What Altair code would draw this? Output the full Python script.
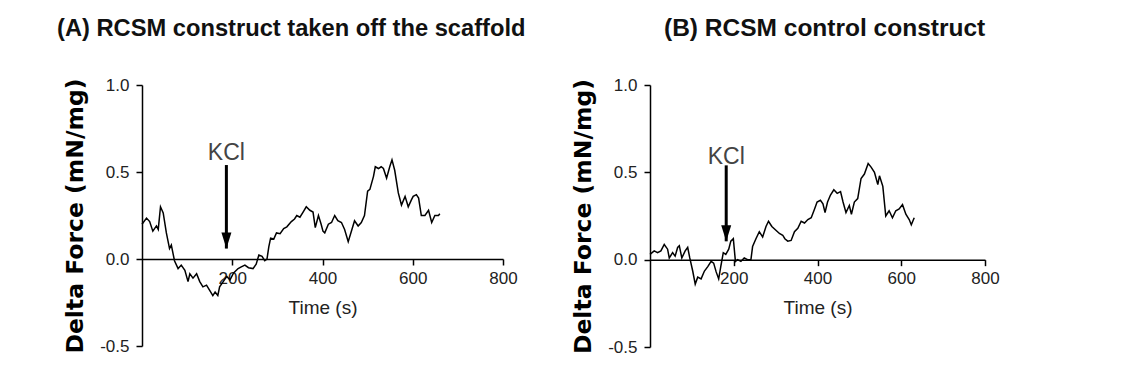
import altair as alt
import pandas as pd

# ---------------- data ----------------
time_a = [0, 10, 17, 24, 32, 36, 41, 47, 54, 61, 65, 72, 80, 87, 95, 102, 106, 113, 121,
          128, 135, 143, 150, 157, 162, 168, 172, 180, 188, 195, 203, 213, 220, 228, 236,
          246, 253, 259, 266, 272, 277, 281, 285, 292, 298, 306, 314, 321, 331, 338, 343,
          350, 357, 364, 372, 379, 384, 391, 397, 401, 405, 413, 420, 427, 434, 442, 449,
          457, 464, 471, 479, 486, 493, 500, 505, 513, 517, 524, 530, 535, 542, 549, 554,
          560, 568, 575, 583, 590, 597, 601, 608, 613, 619, 627, 635, 642, 649, 657, 660]
force_a = [0.20, 0.235, 0.215, 0.16, 0.19, 0.17, 0.30, 0.265, 0.15, 0.06, 0.08, -0.01, -0.055,
           -0.035, -0.065, -0.13, -0.085, -0.11, -0.085, -0.13, -0.16, -0.15, -0.18, -0.21,
           -0.19, -0.21, -0.16, -0.13, -0.10, -0.12, -0.08, -0.055, -0.045, -0.035, -0.05,
           -0.055, -0.03, 0.023, 0.015, -0.01, 0.0, 0.07, 0.12, 0.115, 0.15, 0.145, 0.175,
           0.185, 0.215, 0.23, 0.25, 0.24, 0.27, 0.30, 0.28, 0.27, 0.18, 0.25, 0.20, 0.16,
           0.15, 0.20, 0.21, 0.25, 0.22, 0.21, 0.17, 0.10, 0.16, 0.22, 0.19, 0.21, 0.25, 0.39,
           0.40, 0.475, 0.53, 0.52, 0.53, 0.52, 0.465, 0.53, 0.57, 0.51, 0.38, 0.31, 0.36,
           0.30, 0.34, 0.36, 0.37, 0.35, 0.25, 0.25, 0.28, 0.21, 0.25, 0.25, 0.26]

time_b = [0, 10, 18, 26, 34, 42, 46, 54, 60, 66, 70, 76, 84, 90, 95, 102, 108, 114, 122, 130,
          138, 146, 152, 158, 164, 169, 175, 181, 188, 193, 199, 204, 209, 217, 225, 233, 241,
          245, 253, 261, 269, 277, 283, 291, 300, 309, 317, 322, 329, 337, 345, 353, 361, 369,
          377, 385, 393, 399, 407, 413, 418, 424, 431, 439, 447, 455, 461, 468, 476, 481, 488,
          496, 504, 512, 521, 528, 536, 544, 548, 556, 563, 571, 579, 587, 595, 603, 611, 619,
          624, 631]
force_b = [0.03, 0.05, 0.04, 0.05, 0.087, 0.06, 0.01, 0.04, 0.02, 0.07, 0.08, 0.01, 0.05, 0.07,
           0.01, -0.065, -0.14, -0.10, -0.11, -0.065, -0.04, -0.01, -0.02, -0.07, -0.11, -0.04,
           0.04, 0.03, 0.06, 0.106, 0.12, -0.01, 0.0, -0.01, 0.01, 0.0, 0.0, 0.075, 0.12, 0.16,
           0.13, 0.19, 0.22, 0.19, 0.17, 0.15, 0.14, 0.12, 0.106, 0.11, 0.16, 0.18, 0.22, 0.21,
           0.23, 0.24, 0.29, 0.33, 0.34, 0.32, 0.27, 0.33, 0.37, 0.40, 0.38, 0.39, 0.33, 0.27,
           0.31, 0.26, 0.33, 0.35, 0.465, 0.49, 0.55, 0.53, 0.50, 0.43, 0.48, 0.42, 0.25, 0.28,
           0.24, 0.28, 0.29, 0.315, 0.26, 0.23, 0.20, 0.24]

# KCl arrow: time, top value, tip value, label value
arrow_a = {"t": 187, "top": 0.54, "tip": 0.06, "label": 0.61}
arrow_b = {"t": 182, "top": 0.54, "tip": 0.105, "label": 0.59}

titles = ["(A) RCSM construct taken off the scaffold", "(B) RCSM control construct"]
x_ticks = [200, 400, 600, 800]
y_ticks = [-0.5, 0.0, 0.5, 1.0]

FONT = "Liberation Sans"


def panel(times, forces, arrow, title, w, h, title_dx, title_offset, title_size):
    df = pd.DataFrame({"t": times, "f": forces})
    xs = alt.Scale(domain=[0, 800], nice=False, zero=False)
    ys = alt.Scale(domain=[-0.5, 1.0], nice=False, zero=False)
    x_axis = alt.Axis(values=x_ticks, title="Time (s)", offset=-(h / 3.0))
    y_axis = alt.Axis(values=y_ticks, title="Delta  Force (mN/mg)",
                      labelExpr="datum.value < 0 ? '-' + format(-datum.value, '.1f') : format(datum.value, '.1f')")

    line = alt.Chart(df).mark_line(color="black", strokeWidth=1.5).encode(
        x=alt.X("t:Q", scale=xs, axis=x_axis),
        y=alt.Y("f:Q", scale=ys, axis=y_axis),
    )
    adf = pd.DataFrame({"t": [arrow["t"]], "top": [arrow["top"]], "tip": [arrow["tip"]],
                        "label": [arrow["label"]], "txt": ["KCl"]})
    shaft = alt.Chart(adf).mark_rule(color="black", strokeWidth=3).encode(
        x=alt.X("t:Q", scale=xs, axis=x_axis), y=alt.Y("top:Q", scale=ys, axis=y_axis),
        y2="tip:Q")
    head = alt.Chart(adf).mark_point(shape="M -1 -3.2 L 1 -3.2 L 0 0 Z", filled=True,
                                     color="black", size=100, opacity=1).encode(
        x=alt.X("t:Q", scale=xs, axis=x_axis), y=alt.Y("tip:Q", scale=ys, axis=y_axis))
    label = alt.Chart(adf).mark_text(font=FONT, fontSize=23, color="#444").encode(
        x=alt.X("t:Q", scale=xs, axis=x_axis), y=alt.Y("label:Q", scale=ys, axis=y_axis),
        text="txt:N")

    return alt.layer(line, shaft, head, label).properties(
        width=w, height=h,
        title=alt.TitleParams(title, anchor="start", frame="group", dx=title_dx,
                              offset=title_offset, font=FONT, fontSize=title_size,
                              fontWeight="bold", color="#111"),
    )


chart_a = panel(time_a, force_a, arrow_a, titles[0], 361, 261, -85, 33, 23.7)
chart_b = panel(time_b, force_b, arrow_b, titles[1], 335, 262, 14, 33, 24.5)

chart = alt.hconcat(chart_a, chart_b, spacing=45).properties(
    padding={"left": 57, "top": 15, "right": 5, "bottom": 5}
).configure(
    background="white",
).configure_view(
    stroke=None,
).configure_axis(
    grid=False, domainColor="black", domainWidth=1.5, tickColor="black", tickWidth=1.5,
    tickSize=6, labelFont=FONT, labelColor="#222", labelFlush=False,
    titleFont=FONT, titleColor="black",
).configure_axisX(
    labelFontSize=17, labelPadding=5, titleFontSize=19, titleFontWeight="normal",
    titleColor="#222", titlePadding=12,
).configure_axisY(
    labelFontSize=17, labelPadding=7, titleFont="DejaVu Sans", titleFontSize=23.5,
    titleFontWeight="bold", titlePadding=12,
)

chart.save("out.html", embed_options={"renderer": "svg", "actions": False})
